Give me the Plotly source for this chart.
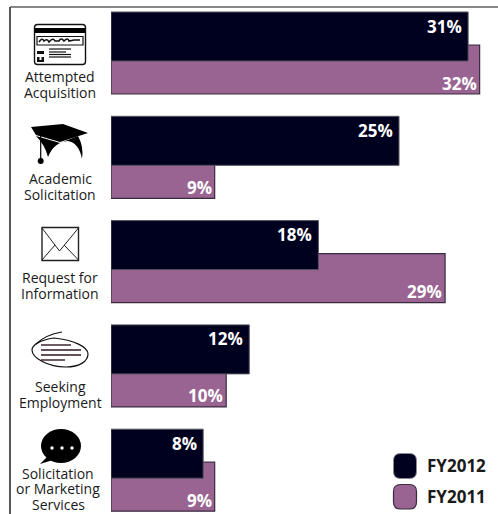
import plotly.graph_objects as go

# Inquiry categories, one list of text lines per group
category_lines = [
    ["Attempted", "Acquisition"],
    ["Academic", "Solicitation"],
    ["Request for", "Information"],
    ["Seeking", "Employment"],
    ["Solicitation", "or Marketing", "Services"],
]
fy2012 = [31, 25, 18, 12, 8]
fy2011 = [32, 9, 29, 10, 9]

W, H = 498, 514
DARK = "#00001f"
PURPLE = "#996492"
FONT = "Open Sans"
TEXT = "#1a1a1a"

# Geometry of the plot area, in pixels
X0 = 111
PX_PER_PCT = 11.52
TOP = 12
PITCH = 104.3
BAR = 49
SHIFT = 33

groups = list(range(len(fy2012)))


def px(x):
    return x / W


def py(y):
    return 1 - y / H


def path(*cmds):
    """Build an SVG path in paper coordinates from pixel tuples."""
    out = []
    for c in cmds:
        op, nums = c[0], c[1:]
        pts = []
        for i in range(0, len(nums), 2):
            pts.append(f"{px(nums[i]):.5f},{py(nums[i + 1]):.5f}")
        out.append(op + " " + " ".join(pts))
    return " ".join(out)


def shape_path(d, fill=None, line=None, lw=1.0):
    s = dict(type="path", xref="paper", yref="paper", path=d, layer="above",
             line=dict(color=line or "rgba(0,0,0,0)", width=lw if line else 0))
    s["fillcolor"] = fill if fill else "rgba(0,0,0,0)"
    return s


def rect(x0, y0, x1, y1, fill=None, line=None, lw=1.0):
    return dict(type="rect", xref="paper", yref="paper", x0=px(x0), x1=px(x1),
                y0=py(y0), y1=py(y1), layer="above",
                fillcolor=fill or "rgba(0,0,0,0)",
                line=dict(color=line or "rgba(0,0,0,0)", width=lw if line else 0))


def seg(x0, y0, x1, y1, color="#000000", lw=1.0):
    return dict(type="line", xref="paper", yref="paper", x0=px(x0), x1=px(x1),
                y0=py(y0), y1=py(y1), layer="above", line=dict(color=color, width=lw))


def ellipse(cx, cy, rx, ry, fill=None, line=None, lw=1.0):
    return dict(type="circle", xref="paper", yref="paper", x0=px(cx - rx), x1=px(cx + rx),
                y0=py(cy - ry), y1=py(cy + ry), layer="above",
                fillcolor=fill or "rgba(0,0,0,0)",
                line=dict(color=line or "rgba(0,0,0,0)", width=lw if line else 0))


def rounded(x0, y0, x1, y1, r, fill, line, lw=1.0):
    d = path(("M", x0 + r, y0), ("L", x1 - r, y0), ("Q", x1, y0, x1, y0 + r),
             ("L", x1, y1 - r), ("Q", x1, y1, x1 - r, y1), ("L", x0 + r, y1),
             ("Q", x0, y1, x0, y1 - r), ("L", x0, y0 + r), ("Q", x0, y0, x0 + r, y0)) + " Z"
    return shape_path(d, fill, line, lw)


fig = go.Figure()

# The earlier year sits behind; the current year overlaps its top part
fig.add_bar(
    y=groups, x=fy2011, orientation="h", name="FY2011", base=0,
    width=BAR / PITCH, offset=SHIFT / PITCH,
    marker=dict(color=PURPLE, line=dict(color="#3a2a40", width=1.2)),
)
fig.add_bar(
    y=groups, x=fy2012, orientation="h", name="FY2012", base=0,
    width=BAR / PITCH, offset=0,
    marker=dict(color=DARK, line=dict(color="#55525f", width=1)),
)

annotations = []

# Value labels, right aligned inside each bar
for g, v in zip(groups, fy2012):
    annotations.append(dict(x=v, y=g + 14 / PITCH, xref="x", yref="y", text=f"<b>{v}%</b>",
                            showarrow=False, xanchor="right", yanchor="middle", xshift=-4,
                            font=dict(family=FONT, size=17, color="#ffffff")))
for g, v in zip(groups, fy2011):
    annotations.append(dict(x=v, y=g + 71 / PITCH, xref="x", yref="y", text=f"<b>{v}%</b>",
                            showarrow=False, xanchor="right", yanchor="middle", xshift=-1,
                            font=dict(family=FONT, size=17, color="#ffffff")))

# Category captions, one annotation per line of text
caption_rows = [[76.5, 92.5], [178.5, 194.5], [277.5, 293.5], [386.5, 402], [473, 488.5, 504]]
caption_x = [60, 60, 60, 60, 58]
for lines, rows, cx in zip(category_lines, caption_rows, caption_x):
    for t, yy in zip(lines, rows):
        annotations.append(dict(x=px(cx), y=py(yy), xref="paper", yref="paper", text=t,
                                showarrow=False, xanchor="center", yanchor="middle",
                                font=dict(family=FONT, size=14, color=TEXT)))

# Legend text
for name, yy in (("FY2012", 465), ("FY2011", 496)):
    annotations.append(dict(x=px(425), y=py(yy), xref="paper", yref="paper", text=f"<b>{name}</b>",
                            showarrow=False, xanchor="left", yanchor="middle",
                            font=dict(family=FONT, size=17, color=TEXT)))

shapes = [
    # Frame on the top and left
    seg(10, 7, W, 7, "#111111", 1.2),
    seg(10, 7, 10, H, "#555555", 2),
    # Legend swatches
    rounded(393.5, 453.5, 416.5, 478.5, 7, DARK, "#8a8a92", 1),
    rounded(393.5, 484.5, 416.5, 509, 7, PURPLE, "#3a2a40", 1.2),
]

# Card icon
shapes += [
    rounded(34.5, 24.5, 85.5, 64.5, 3, "#ffffff", "#111111", 1.4),
    rect(35, 28, 85, 33, "#000000"),
    rect(37, 36.5, 83, 45, "#ffffff", "#111111", 1.2),
    shape_path(path(("M", 39, 42), ("Q", 42, 37, 44, 41), ("Q", 47, 38, 49, 42), ("Q", 53, 37, 55, 41),
                    ("L", 59, 41), ("Q", 61, 37, 64, 41), ("Q", 68, 37, 69, 41), ("L", 74, 40), ("L", 80, 40)),
               None, "#111111", 1.6),
    rect(37, 51, 44, 54, "#111111"),
    rect(37, 57, 44, 62, "#111111"),
    rect(39.5, 57, 41.5, 60, "#ffffff"),
    seg(49, 49, 71, 49, "#111111", 1.2),
    seg(49, 52, 66, 52, "#111111", 1.2),
    seg(49, 54.5, 71, 54.5, "#111111", 1.2),
    seg(49, 57, 71, 57, "#111111", 1.2),
]

# Graduation cap icon
shapes += [
    shape_path(path(("M", 31, 127), ("L", 63, 124), ("L", 88, 133), ("L", 60, 142), ("L", 36, 135)) + " Z",
               "#000000"),
    shape_path(path(("M", 36, 136), ("L", 60, 143), ("L", 78, 136), ("Q", 84, 147, 82, 159),
                    ("Q", 79, 143, 68, 141), ("Q", 54, 142, 48, 157), ("Q", 45, 145, 36, 136)) + " Z",
               "#000000"),
    seg(40.7, 136, 40.7, 160, "#000000", 1.2),
    ellipse(40.7, 161, 3, 3, "#000000"),
]

# Envelope icon
shapes += [
    rect(42, 227.5, 78.5, 260.5, "#ffffff", "#222222", 1.4),
    shape_path(path(("M", 42, 228), ("L", 59.5, 251), ("L", 78.5, 228)), None, "#222222", 1),
    seg(42, 260, 55, 245, "#222222", 1),
    seg(78.5, 260, 64, 245, "#222222", 1),
]

# Handwritten note icon
shapes += [
    shape_path(path(("M", 54, 338), ("C", 40, 340, 32, 345, 32, 350), ("C", 32, 358, 48, 367, 66, 367),
                    ("C", 80, 367, 88, 361, 88, 354), ("C", 88, 347, 74, 340, 54, 338),),
               None, "#111111", 1.2),
    shape_path(path(("M", 36, 344), ("C", 42, 338, 50, 334, 62, 332)), None, "#111111", 1.2),
    seg(41, 345, 71, 345, "#301525", 1.4),
    seg(41, 350, 81, 350, "#301525", 1.4),
    seg(41, 355, 81, 355, "#301525", 1.4),
    seg(41, 360, 65, 360, "#301525", 1.4),
]

# Speech bubble icon
shapes += [
    ellipse(61, 446, 20, 17, "#000000"),
    shape_path(path(("M", 48, 456), ("L", 40, 464), ("L", 56, 459)) + " Z", "#000000"),
    ellipse(52, 448, 1.7, 1.7, "#ffffff"),
    ellipse(62, 448, 1.7, 1.7, "#ffffff"),
    ellipse(72, 448, 1.7, 1.7, "#ffffff"),
]

fig.update_layout(
    width=W,
    height=H,
    margin=dict(l=0, r=0, t=0, b=0),
    paper_bgcolor="#ffffff",
    plot_bgcolor="#ffffff",
    barmode="overlay",
    showlegend=False,
    annotations=annotations,
    shapes=shapes,
    xaxis=dict(domain=[X0 / W, 1], range=[0, (W - X0) / PX_PER_PCT], visible=False, fixedrange=True),
    yaxis=dict(domain=[0, 1], range=[(H - TOP) / PITCH, -TOP / PITCH], visible=False, fixedrange=True),
)

fig.write_html("out.html", config=dict(displayModeBar=False))
